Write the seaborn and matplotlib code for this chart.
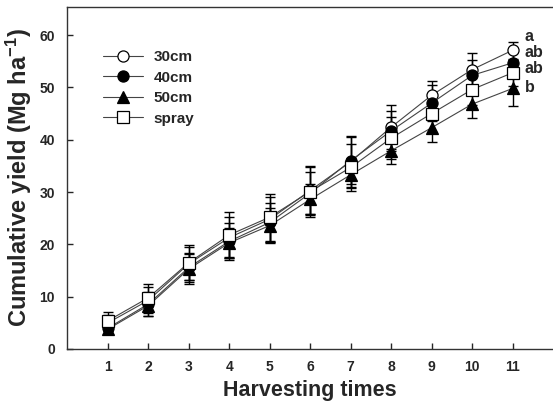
import numpy as np
import pandas as pd
import seaborn as sns
import matplotlib.pyplot as plt

times = [1, 2, 3, 4, 5, 6, 7, 8, 9, 10, 11]
series = ['30cm', '40cm', '50cm', 'spray']

yield_30 = [5.0, 9.3, 16.3, 21.3, 24.8, 30.3, 35.8, 42.4, 48.5, 53.4, 57.1]
yield_40 = [4.0, 8.6, 15.6, 20.6, 24.2, 29.8, 36.0, 41.7, 47.0, 52.3, 54.7]
yield_50 = [3.8, 8.3, 15.3, 20.3, 23.6, 28.6, 33.3, 37.9, 42.3, 46.8, 49.8]
yield_spray = [5.4, 9.8, 16.5, 21.8, 25.2, 30.1, 34.7, 40.3, 45.0, 49.6, 52.8]

sd_30 = [1.5, 2.5, 3.2, 4.0, 4.3, 4.5, 5.0, 4.2, 2.8, 3.2, 1.6]
sd_40 = [1.2, 2.2, 2.8, 3.5, 3.8, 4.0, 4.5, 3.8, 3.5, 3.0, 2.0]
sd_50 = [0.8, 2.0, 2.8, 2.9, 3.3, 2.9, 2.4, 2.5, 2.7, 2.7, 3.4]
sd_spray = [1.6, 2.7, 3.4, 4.3, 4.5, 4.9, 4.5, 4.0, 3.5, 3.0, 2.5]

letters = ['a', 'ab', 'ab', 'b']
letter_y = [59.8, 56.7, 53.7, 49.9]

df = pd.DataFrame({
    'time': times * 4,
    'yield': yield_30 + yield_40 + yield_50 + yield_spray,
    'sd': sd_30 + sd_40 + sd_50 + sd_spray,
    'group': [s for s in series for _ in times],
})

sns.set_style('ticks')
plt.rcParams['font.family'] = ['Liberation Sans', 'DejaVu Sans']
plt.rcParams['font.weight'] = 'bold'
plt.rcParams['mathtext.fontset'] = 'custom'
plt.rcParams['mathtext.rm'] = 'Liberation Sans:bold'
plt.rcParams['mathtext.bf'] = 'Liberation Sans:bold'
plt.rcParams['mathtext.default'] = 'bf'

fig = plt.figure(figsize=(5.53, 4.03), dpi=100)
ax = fig.add_axes([0.122, 0.134, 0.878, 0.849])

styles = {
    '30cm': dict(marker='o', mfc='white'),
    '40cm': dict(marker='o', mfc='black'),
    '50cm': dict(marker='^', mfc='black'),
    'spray': dict(marker='s', mfc='white'),
}

for g in series:
    d = df[df['group'] == g]
    ax.errorbar(d['time'], d['yield'], yerr=d['sd'], fmt='none',
                ecolor='black', elinewidth=1.0, capsize=3.5, capthick=1.0, zorder=2)

for g in series:
    d = df[df['group'] == g]
    st = styles[g]
    sns.lineplot(data=d, x='time', y='yield', ax=ax, color='#444444', linewidth=0.8,
                 marker=st['marker'], markersize=8, markerfacecolor=st['mfc'],
                 markeredgecolor='black', markeredgewidth=0.9, label=g, zorder=3)

for lab, yy in zip(letters, letter_y):
    ax.text(11.3, yy, lab, fontsize=11.5, fontweight='bold', va='center', ha='left')

ax.set_xlim(0, 12)
ax.set_ylim(0, 65.4)
ax.set_xticks(times)
ax.set_yticks([0, 10, 20, 30, 40, 50, 60])
ax.tick_params(direction='in', length=4, width=1, labelsize=10)
for t in ax.get_xticklabels() + ax.get_yticklabels():
    t.set_fontweight('bold')
ax.tick_params(axis='x', pad=8)
ax.tick_params(axis='y', pad=9)

ax.set_xlabel('Harvesting times', fontsize=15.5, fontweight='bold', labelpad=4)
ax.set_ylabel('Cumulative yield (Mg ha$^{-1}$)', fontsize=17, fontweight='bold', labelpad=4)

ax.spines['right'].set_visible(False)
for s in ['left', 'bottom', 'top']:
    ax.spines[s].set_linewidth(1.0)
    ax.spines[s].set_color('#333333')

ax.legend(loc='upper left', bbox_to_anchor=(0.073, 0.874), frameon=False,
          borderpad=0, borderaxespad=0, handlelength=2.6, handletextpad=0.7,
          labelspacing=0.43, prop={'size': 11, 'weight': 'bold'})

fig.savefig('out.png', dpi=100)
